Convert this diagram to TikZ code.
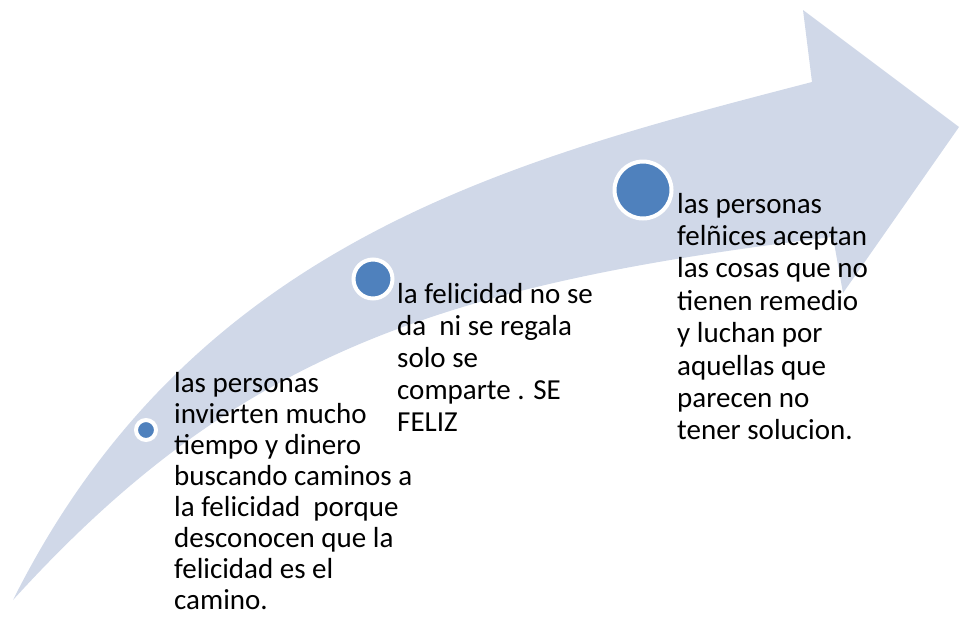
\documentclass[tikz,border=0pt]{standalone}
\usepackage{fontspec}
\setmainfont{Carlito}
\definecolor{band}{HTML}{D0D8E8}
\definecolor{dot}{HTML}{4F81BD}
\begin{document}
\begin{tikzpicture}[x=1pt,y=-1pt,
  dotstyle/.style={circle, fill=dot, draw=white, line width=4pt, inner sep=0pt},
  txt/.style={anchor=base west, inner sep=0pt}]
\useasboundingbox (0,0) rectangle (960,619);
\fill[band] (13,600) .. controls (193,240) and (512,160) .. (812,82)
  -- (803,10) -- (959,127) -- (843,293) -- (833,237)
  .. controls (433,285) and (233,358) .. (13,600) -- cycle;
\node[dotstyle, minimum size=20pt] (d1) at (146,430) {};
\node[dotstyle, minimum size=39pt] (d2) at (373,279) {};
\node[dotstyle, minimum size=57pt] (d3) at (643,190) {};
\node[txt, font=\fontsize{29}{31}\selectfont] (t1) at (174,392) {\begin{tabular}[t]{@{}l@{}}las personas\\invierten mucho\\tiempo y dinero\\buscando caminos a\\la felicidad\ \ porque\\desconocen que la\\felicidad es el\\camino.\end{tabular}};
\node[txt, font=\fontsize{29}{32}\selectfont] (t2) at (397,303) {\begin{tabular}[t]{@{}l@{}}la felicidad no se\\da\ \ ni se regala\\solo se\\comparte . SE\\FELIZ\end{tabular}};
\node[txt, font=\fontsize{29}{32.4}\selectfont] (t3) at (677,213) {\begin{tabular}[t]{@{}l@{}}las personas\\felñices aceptan\\las cosas que no\\tienen remedio\\y luchan por\\aquellas que\\parecen no\\tener solucion.\end{tabular}};
\end{tikzpicture}
\end{document}
